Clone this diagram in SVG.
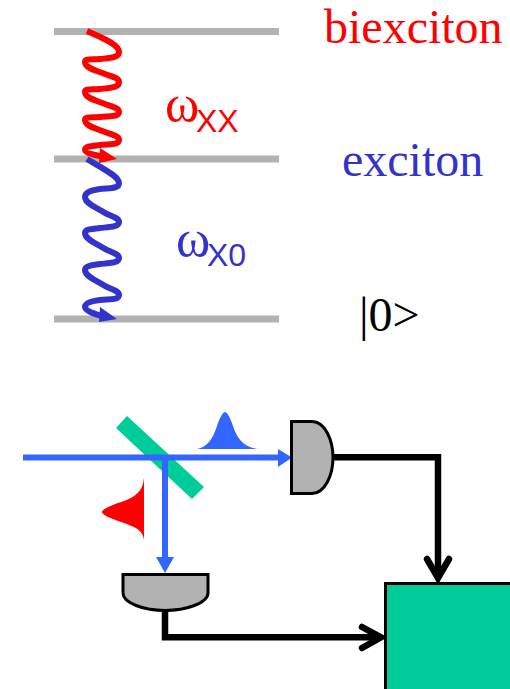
<svg xmlns="http://www.w3.org/2000/svg" width="510" height="689" viewBox="0 0 510 689">
<style>
.lvl{stroke:#b2b2b2;stroke-width:7;fill:none}
.t{font-family:"Liberation Serif","Times New Roman",serif;font-size:48px}
.s{font-family:"Liberation Sans",Arial,sans-serif;font-size:32px}
.w{font-family:"Liberation Serif","Times New Roman",serif;font-size:52px}
.wave{fill:none;stroke-width:6;stroke-linejoin:round}
.beam{stroke:#3366ff;stroke-width:6;fill:none}
.sig{stroke:#000;stroke-width:6.5;fill:none}
.head{stroke:#000;stroke-width:6.5;fill:none;stroke-linecap:round;stroke-linejoin:miter}
.det{fill:#b2b2b2;stroke:#000;stroke-width:3}
</style>
<rect width="510" height="689" fill="#fff"/>
<g id="levels">
<line class="lvl" x1="54" y1="31.5" x2="279" y2="31.5"/>
<line class="lvl" x1="54" y1="159" x2="279" y2="159"/>
<line class="lvl" x1="54" y1="319" x2="279" y2="319"/>
</g>
<g id="labels">
<text class="t" x="324" y="42.8" fill="#ff0000">biexciton</text>
<text class="t" x="342" y="176" fill="#3333cc">exciton</text>
<text class="t" x="359" y="331" fill="#000">|0&gt;</text>
<text class="w" x="165" y="120.5" fill="#ff0000">ω</text>
<text class="s" x="196" y="132" fill="#ff0000">XX</text>
<text class="w" x="176" y="255.5" fill="#3333cc">ω</text>
<text class="s" x="207" y="266" fill="#3333cc">X0</text>
</g>
<g id="mirror"><polygon fill="#00cc99" points="127,416 116,428 192,499 204,487"/></g>
<g id="connectors">
<path class="wave" stroke="#ff0000" d="M87,31 C100,37 119,44 119,52 C119,58 109,58 100,59 C92,60 85,58 85,62 C85,68 95,70 105,74 C113,77 119,78 119,82 C119,88 109,88 100,89 C92,90 85,88 85,92 C85,98 95,100 105,104 C113,107 119,108 119,112 C119,117 109,116 100,117 C92,118 85,116 85,120 C85,126 95,128 105,132 C113,135 119,136 119,140 C119,145 109,144 100,145 C92,146 85,146 85,150 C85,153 95,155 105,157"/>
<polygon fill="#ff0000" points="100,148 117,159 99,163"/>
<path class="wave" stroke="#3333cc" d="M87,159 C100,167 119,176 119,183 C119,189 110,188 100,189 C92,190 85,192 85,197 C85,203 95,207 105,213 C113,217 119,218 119,222 C119,227 110,227 100,228 C92,229 85,229 85,233 C85,239 95,243 105,249 C113,253 119,254 119,258 C119,263 110,263 100,264 C92,265 85,266 85,270 C85,276 95,280 105,286 C113,290 119,291 119,295 C119,300 110,299 100,300 C92,301 85,303 85,307 C85,311 95,314 105,317"/>
<polygon fill="#3333cc" points="100,307 117,319 99,322"/>
<path class="beam" d="M23,457.5 H280"/>
<polygon fill="#3366ff" points="278,449 292,457.5 278,467"/>
<path class="beam" d="M165,457.5 V559"/>
<polygon fill="#3366ff" points="156,557 174,557 165,573"/>
<path class="sig" d="M333,457.3 H438 V578"/>
<path class="head" d="M427,559 L438,578 L449,559"/>
<path class="sig" d="M165,610 V637.3 H381"/>
<path class="head" d="M362,627 L381,637.3 L362,648"/>
</g>
<g id="pulse-blue"><path fill="#3366ff" d="M197,449 C208,447 213,438 217,426 C220,417 223,412 225,412 C227,412 230,417 233,426 C237,438 243,447 258,449 Z"/></g>
<g id="pulse-red"><path fill="#ff0000" d="M144,478 C143,492 134,497 124,501 C112,505 102,509 102,512 C102,515 112,519 124,523 C135,527 143,530 144,540 Z"/></g>
<g id="detector-1"><path class="det" d="M291.5,421.5 H312 C325,421.5 333,440 333,457.5 C333,475 325,493.5 312,493.5 H291.5 Z"/></g>
<g id="detector-2"><path class="det" d="M123,574.5 H208 V593 C208,603 186,610.5 165,610.5 C144,610.5 123,603 123,593 Z"/></g>
<g id="processor"><rect x="385.5" y="583.5" width="130" height="110" fill="#00cc99" stroke="#000" stroke-width="3"/></g>
</svg>
